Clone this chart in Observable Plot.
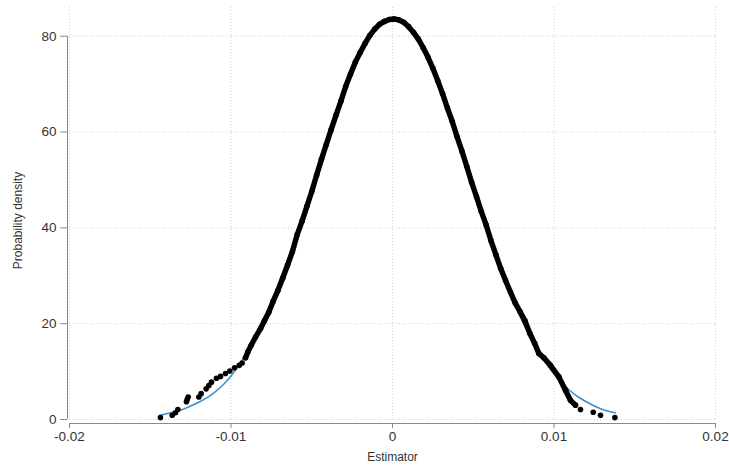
<!DOCTYPE html>
<html><head><meta charset="utf-8">
<script src="https://cdn.jsdelivr.net/npm/d3@7"></script>
<script src="https://cdn.jsdelivr.net/npm/@observablehq/plot@0.6"></script>
<style>body{margin:0;background:#fff;font-family:"Liberation Sans",Arial,sans-serif}</style>
</head><body><div id="chart"></div>
<script>
const xTicks = [-0.02, -0.01, 0, 0.01, 0.02];
const yTicks = [0, 20, 40, 60, 80];
const xLabel = "Estimator";
const yLabel = "Probability density";

// empirical density points (black)
const blackX = [-0.01437,-0.01364,-0.01344,-0.01329,-0.01276,-0.01271,-0.01265,-0.01199,-0.01185,
  -0.01154,-0.01137,-0.01121,-0.01090,-0.01065,-0.01034,-0.01007,-0.00978,-0.00949,-0.00931,
  -0.0091,-0.00896,-0.00875,-0.00848,-0.00817,-0.00793,-0.00766,-0.0074,-0.0071,-0.0068,-0.0065,
  -0.0062,-0.0059,-0.0056,-0.0053,-0.0050,-0.0047,-0.0044,-0.0041,-0.0038,-0.0035,-0.0032,-0.0029,
  -0.0026,-0.0023,-0.0020,-0.0017,-0.0014,-0.0011,-0.0008,-0.0005,-0.0002,0.0001,0.0004,0.0007,
  0.0010,0.0013,0.0016,0.0019,0.0022,0.0025,0.0028,0.0031,0.0034,0.0037,0.0040,0.0043,0.0046,
  0.0049,0.0052,0.0055,0.0058,0.0061,0.0064,0.0067,0.0070,0.0073,0.0076,0.0079,0.0082,0.0085,
  0.0088,0.00906,0.00937,0.00978,0.0103,0.01071,0.01102,0.01133,0.01164,0.01243,0.01288,0.01377];
const blackY = [0.4,0.9,1.4,2.1,3.7,4.2,4.7,4.7,5.4,
  6.4,7.1,7.8,8.6,9.0,9.6,10.1,10.8,11.3,11.8,
  12.9,14.1,15.5,17.2,19.0,20.6,22.4,24.6,26.9,29.5,32.2,
  35.0,38.6,41.4,44.5,47.6,51.0,54.3,57.4,60.5,63.5,66.4,69.5,
  72.1,74.6,76.6,78.5,80.2,81.5,82.5,83.1,83.5,83.6,83.4,82.9,
  82.0,80.8,79.4,77.6,75.6,73.3,70.7,68.0,65.0,62.2,59.0,56.0,52.8,
  49.5,46.5,43.4,40.6,37.3,34.4,31.5,29.0,26.6,24.3,22.5,20.6,18.0,
  15.9,13.8,12.9,11.3,8.9,6.1,4.0,3.0,2.1,1.5,0.9,0.4];
const denseRange = [-0.0091, 0.01133];

// fitted normal density (blue)
const blueX = [-0.0144,-0.014,-0.0135,-0.013,-0.0125,-0.012,-0.0115,-0.011,-0.0105,-0.01,-0.0095,
  -0.009,-0.0085,-0.008,-0.0075,-0.007,-0.0065,-0.006,-0.0055,-0.005,-0.0045,-0.004,-0.0035,-0.003,
  -0.0025,-0.002,-0.0015,-0.001,-0.0005,0,0.0005,0.001,0.0015,0.002,0.0025,0.003,0.0035,0.004,
  0.0045,0.005,0.0055,0.006,0.0065,0.007,0.0075,0.008,0.0085,0.009,0.0095,0.01,0.0105,0.011,
  0.0115,0.012,0.0125,0.013,0.0135,0.0138];
const blueY = [0.9,1.2,1.6,2.1,2.8,3.6,4.5,5.7,7.2,9.1,11.4,
  14.2,17.4,20.8,24.6,28.8,33.3,38.2,43.3,48.5,53.7,58.9,63.9,68.6,
  72.8,76.5,79.4,81.6,82.9,83.4,82.9,81.6,79.4,76.5,72.8,68.6,63.9,58.9,
  53.7,48.5,43.3,38.2,33.3,28.8,24.6,20.8,17.4,14.4,11.8,9.5,7.6,6.0,
  4.7,3.7,2.8,2.1,1.6,1.4];

const black = blackX.map((x, i) => ({x, y: blackY[i]}));
const dense = black.filter(d => d.x >= denseRange[0] && d.x <= denseRange[1]);
const blue = blueX.map((x, i) => ({x, y: blueY[i]}));

const grid = {stroke: "#cfcfcf", strokeOpacity: 1, strokeDasharray: "1,2", strokeWidth: 1};

const chart = Plot.plot({
  width: 729, height: 466,
  marginLeft: 69, marginRight: 14, marginTop: 7, marginBottom: 47,
  style: {fontFamily: "'Liberation Sans', Arial, sans-serif", fontSize: "13.5px", color: "#333", background: "#fff"},
  x: {domain: [xTicks[0], xTicks[xTicks.length - 1]]},
  y: {domain: [0, 86]},
  marks: [
    Plot.gridX(xTicks, grid),
    Plot.gridY(yTicks, {...grid, x1: xTicks[0], x2: xTicks[xTicks.length - 1]}),
    Plot.ruleX([xTicks[0]], {y1: yTicks[0], y2: yTicks[yTicks.length - 1], dx: -2, stroke: "#8a8a8a"}),
    Plot.ruleY([yTicks[0]], {x1: xTicks[0], x2: xTicks[xTicks.length - 1], dy: 4, stroke: "#8a8a8a"}),
    Plot.axisY(yTicks, {tickSize: 7, tickPadding: 4, dx: -2, label: null, stroke: "#8a8a8a", fill: "#333", tickFormat: d => String(d)}),
    Plot.axisX(xTicks, {tickSize: 5, tickPadding: 3, dy: 4, label: null, stroke: "#8a8a8a", fill: "#333", tickFormat: d => d === 0 ? "0" : d.toFixed(2)}),
    Plot.text([xLabel], {frameAnchor: "bottom", dy: 41, fontSize: 12, fill: "#333"}),
    Plot.text([yLabel], {frameAnchor: "left", textAnchor: "middle", rotate: -90, dx: -51, dy: 7, fontSize: 12, fill: "#333"}),
    Plot.line(blue, {x: "x", y: "y", stroke: "#3f8fcb", strokeWidth: 1.6, curve: "natural"}),
    Plot.line(dense, {x: "x", y: "y", stroke: "#000", strokeWidth: 5.4, strokeLinejoin: "round"}),
    Plot.dot(black, {x: "x", y: "y", r: 2.8, fill: "#000", stroke: "none"})
  ]
});
document.getElementById("chart").append(chart);
</script></body></html>
